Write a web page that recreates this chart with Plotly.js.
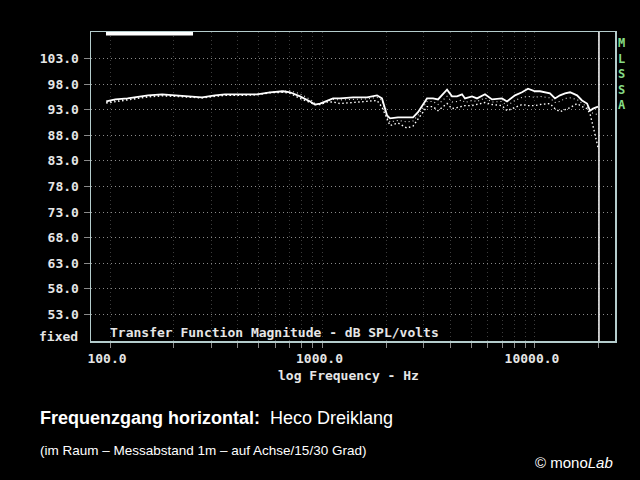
<!DOCTYPE html>
<html>
<head>
<meta charset="utf-8">
<script src="https://cdn.plot.ly/plotly-3.0.1.min.js"></script>
<style>
html,body{margin:0;padding:0;background:#000;}
#chart{width:640px;height:480px;}
</style>
</head>
<body>
<div id="chart"></div>
<script>
// Frequencies (Hz)
var freqHz = [96,106,121,151,176,203,233,271,312,347,409,492,567,652,703,784,874,922,974,1050,
  1121,1209,1392,1620,1806,1905,2012,2079,2266,2498,2667,2815,3103,3311,3496,3855,4069,4295,4535,4684,
  5053,5335,5817,6276,6993,7385,8053,8687,9270,10000,10560,11760,12420,13110,13850,14620,15770,16650,17580,18150,18750,19800];

// On-axis response (solid), dB SPL/volts
var onAxis = [94.6,95.0,95.2,95.8,96.0,95.8,95.6,95.4,95.8,96.0,96.0,96.0,96.4,96.6,96.4,95.6,94.6,94.0,94.2,94.8,
  95.2,95.2,95.4,95.4,95.8,95.2,91.9,91.3,91.5,91.5,91.5,92.5,95.2,95.2,95.0,96.9,95.6,95.6,96.0,95.2,
  95.6,95.2,96.0,95.0,95.2,94.6,95.8,96.4,97.1,96.6,96.6,96.2,95.2,95.8,96.2,96.4,95.8,94.8,94.2,92.8,93.2,93.6];

// 15 degree response (dotted)
var deg15 = [94.4,94.8,95.0,95.6,95.8,95.7,95.5,95.3,95.7,95.9,95.9,96.0,96.4,96.6,96.7,96.1,95.0,94.2,94.1,94.6,
  95.0,94.9,95.0,95.1,95.4,94.8,91.6,90.6,90.9,90.6,90.8,91.9,94.6,94.6,94.0,95.6,94.5,94.6,94.9,94.4,
  94.8,94.6,95.3,94.5,94.6,93.8,94.8,95.4,95.6,95.4,95.6,95.3,94.4,94.6,95.2,95.3,95.0,94.2,93.6,92.6,92.3,92.0];

// 30 degree response (dotted)
var deg30 = [94.3,94.6,94.9,95.5,95.7,95.6,95.4,95.3,95.6,95.8,95.8,95.9,96.3,96.4,96.2,95.2,94.4,94.0,94.0,94.5,
  94.5,94.2,94.4,94.6,94.8,93.5,91.0,89.9,90.4,89.4,89.8,91.2,93.6,93.6,92.8,94.2,93.2,93.4,93.6,93.8,
  93.8,94.0,94.4,94.0,93.8,92.8,93.4,94.0,93.8,93.8,94.0,94.2,93.2,92.6,93.0,93.4,94.2,93.6,93.2,92.2,89.8,85.6];

// Axis ticks
var yTickVals = [53,58,63,68,73,78,83,88,93,98,103];
var xTickVals = [100,200,300,400,500,600,700,800,900,1000,2000,3000,4000,5000,6000,7000,8000,9000,10000,20000];
var xTickText = ["100.0","","","","","","","","","1000.0","","","","","","","","","10000.0",""];
var cursorHz = [20000];

var monoFont = {family:"DejaVu Sans Mono, Liberation Mono, monospace", size:13, color:"#e6e6e6", weight:"bold"};

var traces = [
  {x:freqHz, y:deg30, type:"scatter", mode:"lines", name:"30 Grad",
   line:{color:"#ffffff", width:1.4, dash:"1.5px,2.5px"}},
  {x:freqHz, y:deg15, type:"scatter", mode:"lines", name:"15 Grad",
   line:{color:"#e0e0e0", width:1.1, dash:"1px,3px"}},
  {x:freqHz, y:onAxis, type:"scatter", mode:"lines", name:"auf Achse",
   line:{color:"#ffffff", width:1.8}}
];

var layout = {
  width:640, height:480,
  paper_bgcolor:"#000000", plot_bgcolor:"#000000",
  showlegend:false,
  margin:{l:91, r:25, t:32, b:139, pad:0},
  xaxis:{
    type:"log", range:[1.9106, 4.3765], autorange:false,
    tickvals:xTickVals, ticktext:xTickText,
    ticks:"outside", ticklen:5, tickcolor:"#8a8a8a", tickwidth:1,
    tickfont:monoFont, ticklabelshift:-3,
    showgrid:true, gridcolor:"#3c3c3c", griddash:"1px,3px", gridwidth:1,
    showline:true, mirror:true, linecolor:"#b4cccc", linewidth:1.5,
    zeroline:false
  },
  yaxis:{
    range:[47.79, 108.18], autorange:false,
    tickvals:yTickVals, tickformat:".1f",
    ticks:"outside", ticklen:6, tickcolor:"#8a8a8a", tickwidth:1,
    tickfont:monoFont, ticklabelstandoff:2,
    showgrid:true, gridcolor:"#8a8a8a", griddash:"1px,3px", gridwidth:1,
    showline:true, mirror:true, linecolor:"#b4cccc", linewidth:1.5,
    zeroline:false
  },
  shapes:[
    {type:"line", xref:"x", yref:"paper", x0:cursorHz[0], x1:cursorHz[0], y0:0, y1:1,
     line:{color:"#ffffff", width:1.5}},
    {type:"rect", xref:"paper", yref:"paper", x0:0.0286, x1:0.1947, y0:0.9887, y1:1,
     fillcolor:"#ffffff", line:{width:0}}
  ],
  annotations:[
    {xref:"paper", yref:"paper", x:0.0324, y:0.027, xanchor:"left", yanchor:"middle",
     text:"Transfer Function Magnitude - dB SPL/volts", showarrow:false, font:monoFont},
    {xref:"paper", yref:"paper", x:0.4914, y:-0.1126, xanchor:"center", yanchor:"middle",
     text:"log Frequency - Hz", showarrow:false,
     font:{family:"DejaVu Sans Mono, monospace", size:13, color:"#e6e6e6", weight:"bold"}},
    {xref:"paper", yref:"paper", x:-0.021, y:0.016, xanchor:"right", yanchor:"middle",
     text:"fixed", showarrow:false, font:monoFont},
    {xref:"paper", yref:"paper", x:1.0, xshift:7, y:0.995, xanchor:"center", yanchor:"top",
     text:"M<br>L<br>S<br>S<br>A", showarrow:false, align:"center",
     font:{family:"DejaVu Sans Mono, monospace", size:12, color:"#86dc86", weight:"bold"}},
    {xref:"paper", yref:"paper", x:-0.101, y:-0.2492, xanchor:"left", yanchor:"middle",
     text:"<b>Frequenzgang horizontal:</b>\u00a0\u00a0Heco Dreiklang", showarrow:false,
     font:{family:"Liberation Sans, Arial, sans-serif", size:18, color:"#ffffff"}},
    {xref:"paper", yref:"paper", x:-0.101, y:-0.3528, xanchor:"left", yanchor:"middle",
     text:"(im Raum – Messabstand 1m – auf Achse/15/30 Grad)", showarrow:false,
     font:{family:"Liberation Sans, sans-serif", size:13.5, color:"#ffffff"}},
    {xref:"paper", yref:"paper", x:1.0, y:-0.3948, xanchor:"right", yanchor:"middle",
     text:"© mono<i>Lab</i>", showarrow:false,
     font:{family:"Liberation Sans, sans-serif", size:15, color:"#ffffff"}}
  ]
};

Plotly.newPlot("chart", traces, layout, {displayModeBar:false, staticPlot:true});
</script>
</body>
</html>
